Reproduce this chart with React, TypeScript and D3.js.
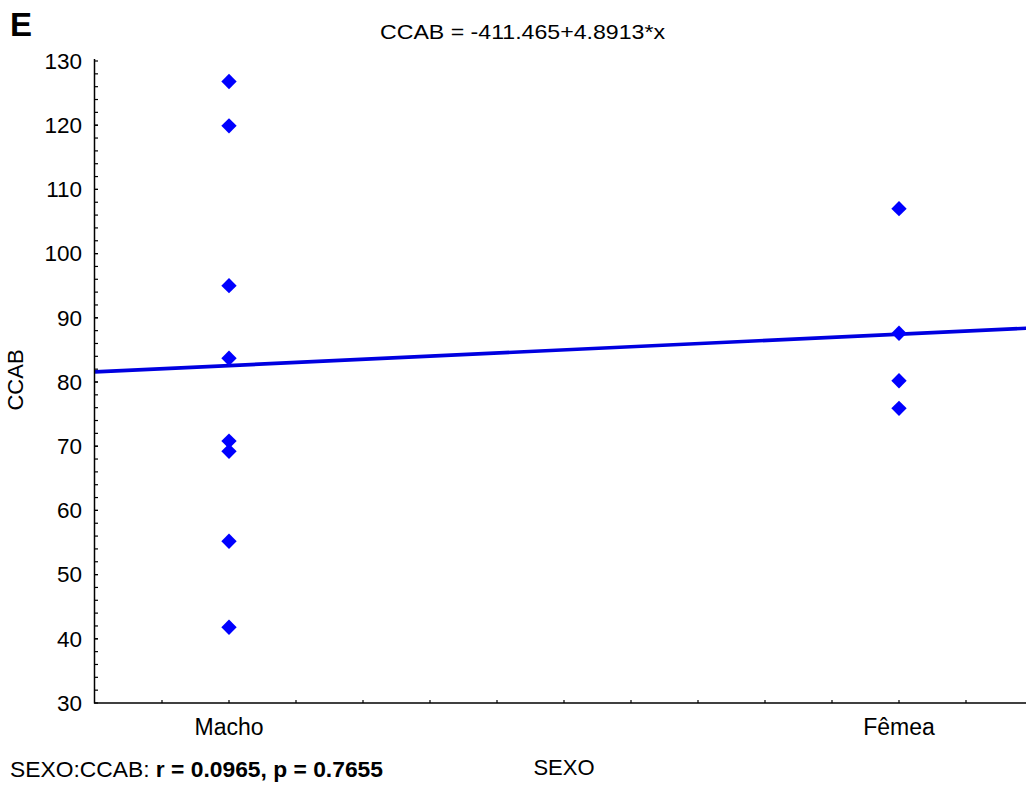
import React from "react";
import * as d3 from "d3";

// Group codes on the numeric x axis (SEXO) and observed CCAB values
const categories = ["Macho", "Fêmea"];
const categoryCodes = [101, 102];
const machoValues = [126.8, 119.9, 95.0, 83.7, 70.8, 69.2, 55.2, 41.8];
const femeaValues = [107.0, 87.6, 80.2, 75.9];
const yTickLabels = [30, 40, 50, 60, 70, 80, 90, 100, 110, 120, 130];

// Fitted regression line: CCAB = a + b * x
const intercept = -411.465;
const slope = 4.8913;

const W = 1026;
const H = 787;
const FONT = "'Liberation Sans', Arial, sans-serif";

export default function App() {
  const x = d3.scaleLinear().domain([100.8, 102.2]).range([95, 1033]);
  const y = d3.scaleLinear().domain([30, 130]).range([703, 61]);

  const points = [
    ...machoValues.map((v) => ({ cx: categoryCodes[0], v })),
    ...femeaValues.map((v) => ({ cx: categoryCodes[1], v })),
  ];

  const xMinor = d3.range(100.9, 102.2, 0.1);
  const yMinor = d3.range(32, 130, 2);

  const [x0, x1] = x.domain();
  const line = d3
    .line<number>()
    .x((d) => x(d))
    .y((d) => y(intercept + slope * d));

  const diamond = d3.symbol().type(d3.symbolDiamond2).size(150)();

  return (
    <svg
      width={W}
      height={H}
      style={{ position: "absolute", left: 0, top: 0, background: "#fff" }}
      fontFamily={FONT}
    >
      <rect width={W} height={H} fill="#fff" />
      {/* panel letter and equation */}
      <text x={10} y={36} fontSize={33} fontWeight="bold" fill="#000">
        E
      </text>
      <text x={380} y={39} fontSize={21} textLength={285} lengthAdjust="spacingAndGlyphs" fill="#000">
        CCAB = -411.465+4.8913*x
      </text>

      {/* regression line, clipped to the plot area */}
      <clipPath id="plotClip">
        <rect x={95} y={55} width={W} height={650} />
      </clipPath>
      <path
        d={line([x0, x1]) || ""}
        stroke="#0000e0"
        strokeWidth={3.6}
        fill="none"
        clipPath="url(#plotClip)"
      />

      {/* data points */}
      {points.map((p, i) => (
        <path
          key={i}
          d={diamond || ""}
          transform={`translate(${x(p.cx)},${y(p.v)})`}
          fill="#0000ff"
        />
      ))}

      {/* axes */}
      <line x1={94.5} y1={59} x2={94.5} y2={703.5} stroke="#000" strokeWidth={1.5} />
      <line x1={94} y1={703} x2={W} y2={703} stroke="#000" strokeWidth={1.5} />
      {yMinor.map((t) => (
        <line key={"ym" + t} x1={95} x2={98} y1={y(t)} y2={y(t)} stroke="#000" strokeWidth={1.2} />
      ))}
      {yTickLabels.map((t) => (
        <line key={"yt" + t} x1={95} x2={98} y1={y(t)} y2={y(t)} stroke="#000" strokeWidth={1.2} />
      ))}
      {xMinor.map((t) => (
        <line key={"xm" + t} x1={x(t)} x2={x(t)} y1={703} y2={700} stroke="#000" strokeWidth={1.2} />
      ))}
      {yTickLabels.map((t) => (
        <text
          key={"yl" + t}
          x={82}
          y={y(t)}
          dy="0.35em"
          fontSize={22.5}
          textAnchor="end"
          fill="#000"
        >
          {t}
        </text>
      ))}
      {categories.map((c, i) => (
        <text key={c} x={x(categoryCodes[i])} y={735} fontSize={23} textAnchor="middle" fill="#000">
          {c}
        </text>
      ))}

      {/* axis titles */}
      <text x={564} y={775} fontSize={22} textAnchor="middle" fill="#000">
        SEXO
      </text>
      <text
        transform="translate(23,380) rotate(-90)"
        fontSize={22}
        textAnchor="middle"
        fill="#000"
      >
        CCAB
      </text>

      {/* correlation summary */}
      <text x={10} y={777} fontSize={21.5} textLength={373} lengthAdjust="spacingAndGlyphs" fill="#000">
        SEXO:CCAB: <tspan fontWeight="bold">r = 0.0965, p = 0.7655</tspan>
      </text>
    </svg>
  );
}
